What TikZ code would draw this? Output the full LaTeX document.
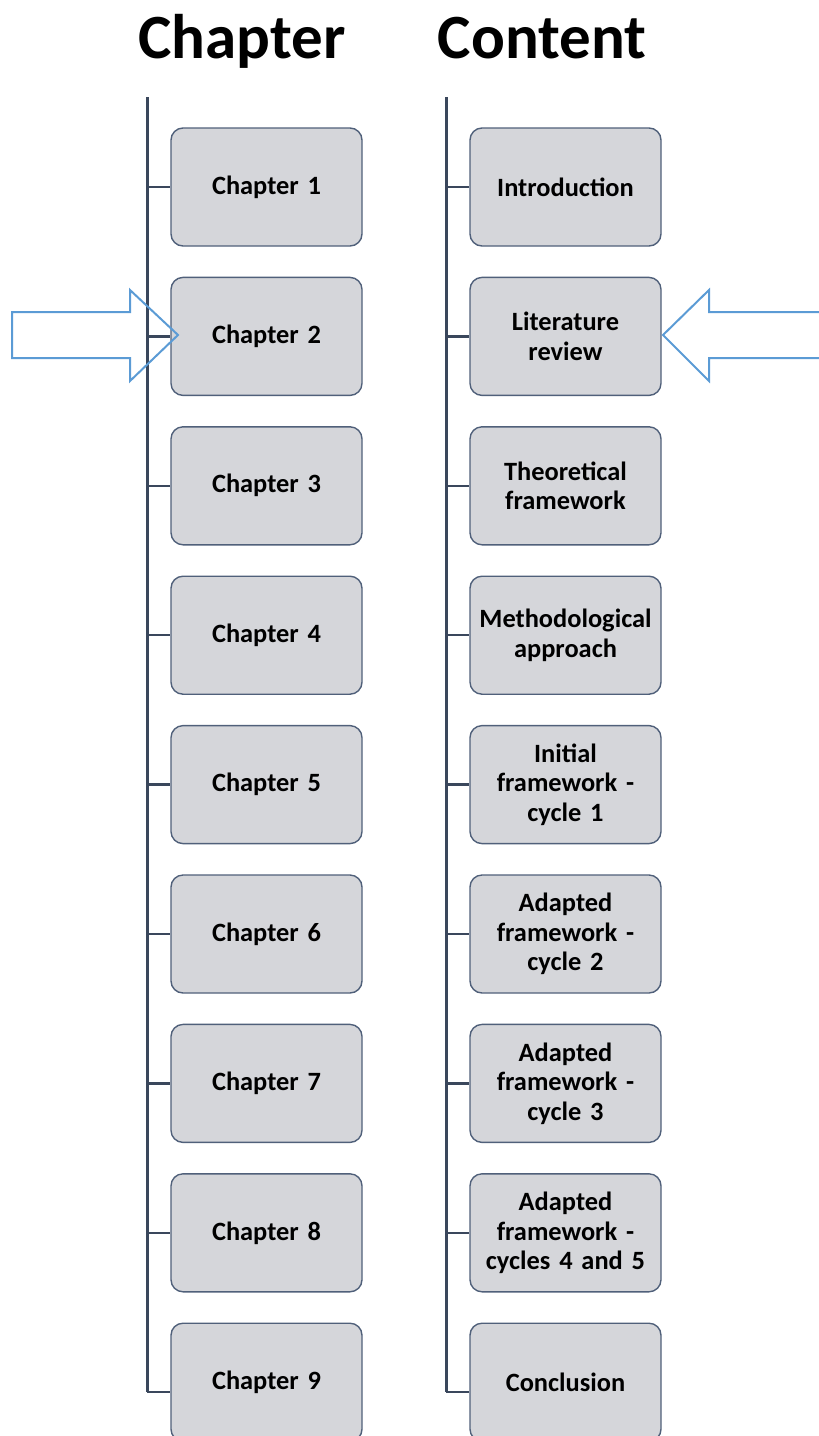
\documentclass[tikz,border=0pt]{standalone}
\usepackage{fontspec}
\setmainfont{Carlito}
\definecolor{spine}{HTML}{3A475C}
\definecolor{boxfill}{HTML}{D5D6DA}
\definecolor{boxline}{HTML}{50607A}
\definecolor{arrowblue}{HTML}{5B9BD5}
\begin{document}
\begin{tikzpicture}[x=0.5pt,y=-0.5pt,
  item/.style={draw=boxline,line width=0.7pt,fill=boxfill,rounded corners=6pt,
    minimum width=95.5pt,minimum height=59pt,text width=90pt,inner sep=2.75pt,
    align=center,font=\fontsize{13.2}{14.8}\selectfont\bfseries},
  heading/.style={font=\fontsize{31.5}{34}\selectfont\bfseries,inner sep=0pt,anchor=base},
  spineline/.style={draw=spine,line width=1.5pt},
  tick/.style={draw=spine,line width=1.2pt},
  pointer/.style={draw=arrowblue,line width=1pt,line join=miter}]
\useasboundingbox (0,0) rectangle (819,1436);
\clip (0,0) rectangle (819,1436);

% column headings
\node[heading] (hchap) at (242,58) {Chapter};
\node[heading] (hcont) at (542,58) {Content};

% boxes
\foreach \i/\lbl in {1/Chapter 1,2/Chapter 2,3/Chapter 3,4/Chapter 4,5/Chapter 5,
    6/Chapter 6,7/Chapter 7,8/Chapter 8,9/Chapter 9}
  \node[item] (ch\i) at (266.5,{187+149.4*(\i-1)}) {\lbl};
\foreach \i/\lbl in {1/Introduction,2/Literature\\review,3/Theoretical\\framework,
    4/Methodological\\approach,5/Initial\\framework -\\cycle 1,
    6/Adapted\\framework -\\cycle 2,7/Adapted\\framework -\\cycle 3,
    8/Adapted\\framework -\\cycles 4 and 5,9/Conclusion}
  \node[item] (ct\i) at (565.5,{187+149.4*(\i-1)}) {\lbl};

% spines with their ticks
\coordinate (ltop) at (147,97);
\coordinate (lbot) at (147,1392);
\coordinate (rtop) at (446,97);
\coordinate (rbot) at (446,1392);
\draw[spineline] (ltop) -- (lbot);
\draw[spineline] (rtop) -- (rbot);
\foreach \i in {1,...,8} {
  \draw[tick] (ch\i.west -| ltop) -- (ch\i.west);
  \draw[tick] (ct\i.west -| rtop) -- (ct\i.west);
}
\draw[tick] (lbot) -- (lbot -| ch9.west);
\draw[tick] (rbot) -- (rbot -| ct9.west);

% block arrows pointing at chapter 2 and its content
\coordinate (ltip) at (178,335);
\coordinate (rtip) at (663,335);
\draw[pointer] (12,312) -- (130,312) -- (130,290) -- (ltip) -- (130,381)
  -- (130,358) -- (12,358) -- cycle;
\draw[pointer] (830,312) -- (709,312) -- (709,290) -- (rtip) -- (709,381)
  -- (709,358) -- (830,358);
\end{tikzpicture}
\end{document}
